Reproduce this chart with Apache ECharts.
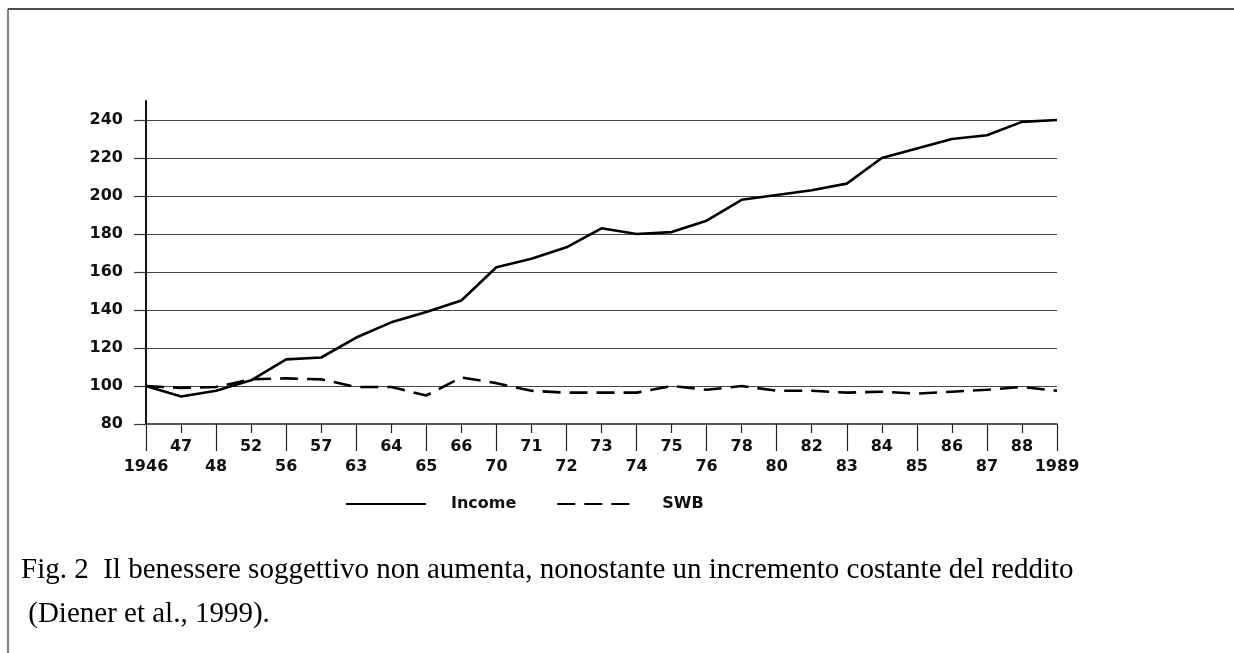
<!DOCTYPE html>
<html>
<head>
<meta charset="utf-8">
<script src="https://cdn.jsdelivr.net/npm/echarts@6/dist/echarts.min.js"></script>
<style>
html,body{margin:0;padding:0;background:#fff;}
#chart{width:1234px;height:653px;}
</style>
</head>
<body>
<div id="chart"></div>
<script>
// Data
var years = ['1946','47','48','52','56','57','63','64','65','66','70','71','72','73','74','75','76','78','80','82','83','84','85','86','87','88','1989'];
var income = [100, 94.5, 97.5, 103, 114, 115, 125.5, 133.5, 139, 145, 162.5, 167, 173, 183, 180, 181, 187, 198, 200.5, 203, 206.5, 220, 225, 230, 232, 239, 240];
var swb = [100, 99, 99.5, 103.5, 104, 103.5, 99.5, 99.5, 95, 104.5, 101.5, 97.5, 96.5, 96.5, 96.5, 100, 98, 100, 97.5, 97.5, 96.5, 97, 96, 97, 98, 99.5, 97.5];
var yTicks = [80, 100, 120, 140, 160, 180, 200, 220, 240];
var seriesNames = ['Income', 'SWB'];
var captionLines = ['Fig. 2  Il benessere soggettivo non aumenta, nonostante un incremento costante del reddito', ' (Diener et al., 1999).'];

var chart = echarts.init(document.getElementById('chart'));

function evenIdx(i){ return i % 2 === 0; }
function oddIdx(i){ return i % 2 === 1; }

var option = {
  backgroundColor: '#fff',
  animation: false,
  title: {
    text: captionLines.join('\n'),
    left: 16,
    top: 543,
    textStyle: {fontFamily: 'Liberation Serif', fontSize: 29, fontWeight: 'normal', color: '#000', lineHeight: 44}
  },
  legend: {
    data: seriesNames,
    left: 345,
    top: 496,
    padding: 0,
    itemWidth: 80,
    itemHeight: 14,
    itemGap: 40,
    itemStyle: {opacity: 0},
    formatter: function(n){ return '{t|' + n + '}'; },
    textStyle: {
      rich: {t: {padding: [0,0,0,20], fontFamily: 'DejaVu Sans', fontWeight: 'bold', fontSize: 16, color: '#111'}}
    }
  },
  grid: {left: 146, right: 177, top: 101, bottom: 229, containLabel: false},
  xAxis: [
    {
      type: 'category', data: years, boundaryGap: false, position: 'bottom',
      axisLine: {show: true, lineStyle: {color: '#222', width: 1.5}},
      axisTick: {show: true, length: 27, interval: function(i){ return evenIdx(i); }, lineStyle: {color: '#222', width: 1.2}},
      axisLabel: {show: true, interval: function(i){ return evenIdx(i); }, margin: 35, fontSize: 16, fontFamily: 'DejaVu Sans', fontWeight: 'bold', color: '#111'},
      splitLine: {show: false}
    },
    {
      type: 'category', data: years, boundaryGap: false, position: 'bottom',
      axisLine: {show: false},
      axisTick: {show: true, length: 9, interval: function(i){ return oddIdx(i); }, lineStyle: {color: '#222', width: 1.2}},
      axisLabel: {show: true, interval: function(i){ return oddIdx(i); }, margin: 15, fontSize: 16, fontFamily: 'DejaVu Sans', fontWeight: 'bold', color: '#111'},
      splitLine: {show: false}
    }
  ],
  yAxis: {
    type: 'value', min: 80, max: 250, interval: 20,
    axisLine: {show: true, lineStyle: {color: '#111', width: 2}},
    axisTick: {show: true, length: 12, customValues: yTicks, lineStyle: {color: '#333', width: 1.2}},
    axisLabel: {customValues: yTicks, margin: 23, fontSize: 16, fontFamily: 'DejaVu Sans', fontWeight: 'bold', color: '#111'},
    splitLine: {show: true, showMaxLine: true, showMinLine: false, lineStyle: {color: '#444', width: 1.2}}
  },
  series: [
    {
      name: seriesNames[0], type: 'line', data: income, xAxisIndex: 0,
      symbol: 'none', smooth: false,
      lineStyle: {color: '#000', width: 2.6, type: 'solid'},
      itemStyle: {color: '#000'}
    },
    {
      name: seriesNames[1], type: 'line', data: swb, xAxisIndex: 0,
      symbol: 'none', smooth: false,
      lineStyle: {color: '#000', width: 2.6, type: [18, 9]},
      itemStyle: {color: '#000'}
    }
  ],
  graphic: [
    {type: 'line', shape: {x1: 8, y1: 9, x2: 1234, y2: 9}, style: {stroke: '#111', lineWidth: 1.5}},
    {type: 'line', shape: {x1: 8, y1: 9, x2: 8, y2: 653}, style: {stroke: '#555', lineWidth: 1.5}}
  ]
};
chart.setOption(option);
</script>
</body>
</html>
